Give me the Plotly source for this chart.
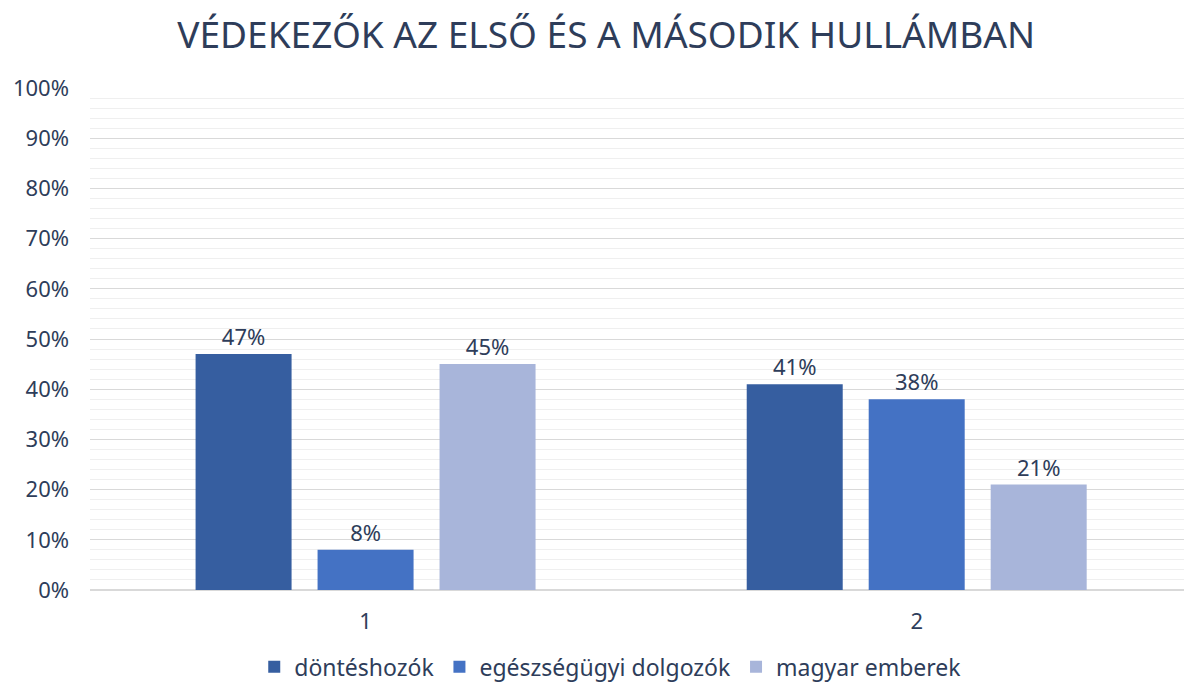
import plotly.graph_objects as go

categories = ["1", "2"]
series_names = ["döntéshozók", "egészségügyi dolgozók", "magyar emberek"]
dontes = [47, 41]
egeszsegugyi = [8, 38]
magyar = [45, 21]
values = [dontes, egeszsegugyi, magyar]
colors = ["#365ea0", "#4472c4", "#a8b5da"]
y_ticks = list(range(0, 101, 10))
y_tick_labels = [f"{v}%" for v in y_ticks]

TEXT = "#2e3d5a"
FONT = "Noto Sans"

fig = go.Figure()
for name, vals, col in zip(series_names, values, colors):
    fig.add_trace(go.Bar(
        x=categories, y=vals, name=name,
        marker=dict(color=col, line=dict(width=0)),
        text=[f"{v}%" for v in vals], textposition="outside",
        textfont=dict(size=22, color=TEXT, family=FONT),
        cliponaxis=False,
    ))

fig.update_layout(
    width=1184, height=683,
    paper_bgcolor="white", plot_bgcolor="white",
    margin=dict(l=90, r=0, t=88, b=93, autoexpand=False),
    barmode="group", bargap=0.336, bargroupgap=0.213,
    font=dict(family=FONT, color=TEXT, size=22),
    title=dict(text="VÉDEKEZŐK AZ ELSŐ ÉS A MÁSODIK HULLÁMBAN",
               x=0.512, xanchor="center", y=0.949, yanchor="middle",
               font=dict(size=37, color=TEXT, family=FONT)),
    showlegend=True,
    legend=dict(orientation="h", x=0.476, xanchor="center", y=-0.11, yanchor="top",
                font=dict(size=23, color=TEXT, family=FONT),
                itemwidth=30, traceorder="normal"),
)
fig.update_xaxes(type="category", range=[-0.5, 1.485], showgrid=False, showline=False,
                 ticks="", tickfont=dict(size=22, color=TEXT), ticklabelstandoff=16)
fig.update_yaxes(range=[0, 100], tickvals=y_ticks, ticktext=y_tick_labels,
                 showgrid=True, gridcolor="#d9d9d9", gridwidth=1,
                 zeroline=True, zerolinecolor="#d9d9d9", zerolinewidth=1.5,
                 minor=dict(dtick=2, showgrid=True, gridcolor="#efefef", gridwidth=1),
                 tickfont=dict(size=22, color=TEXT), ticklabelstandoff=20, fixedrange=True)

fig.write_html(
    "out.html",
    config={"displayModeBar": False},
    post_script="document.body.style.margin='0';document.body.style.overflow='hidden';",
)
